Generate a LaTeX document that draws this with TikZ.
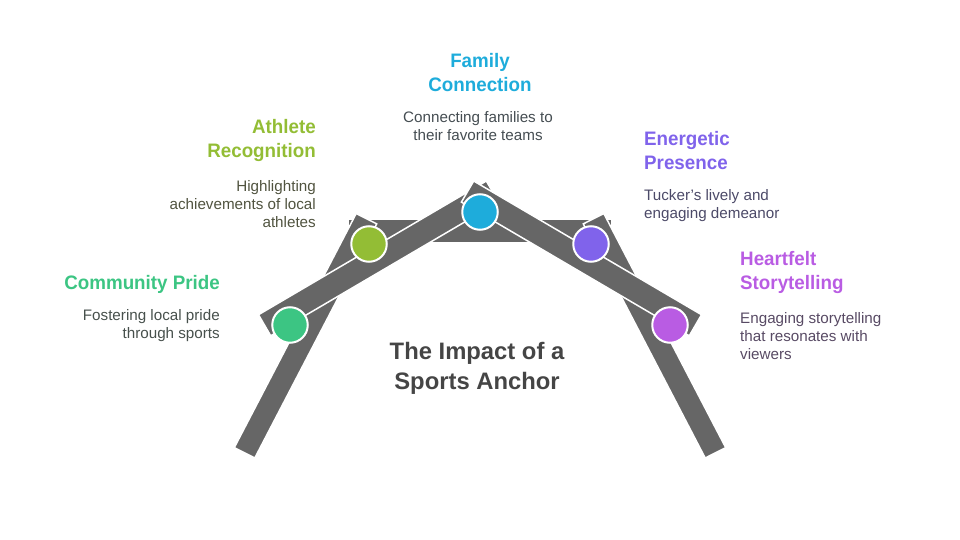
\documentclass[tikz,border=0pt]{standalone}
\usepackage{fontspec}
\setmainfont{Liberation Sans}
\newfontfamily\headfont[FakeStretch=0.963]{Liberation Sans}
\definecolor{bar}{HTML}{666666}
\definecolor{cgreen}{HTML}{3CC583}
\definecolor{colive}{HTML}{93BD35}
\definecolor{cblue}{HTML}{1EACDB}
\definecolor{cpurple}{HTML}{8063EB}
\definecolor{cmagenta}{HTML}{B95CE3}
\definecolor{tgreen}{HTML}{47504C}
\definecolor{tolive}{HTML}{50533F}
\definecolor{tblue}{HTML}{454D52}
\definecolor{tpurple}{HTML}{4C4A68}
\definecolor{tmagenta}{HTML}{584A64}
\tikzset{
  barshape/.style={fill=bar,draw=white,line width=1.5pt,line join=miter},
  dot/.style={circle,draw=white,line width=2pt,minimum size=35.5pt,inner sep=0pt},
  headl/.style={font=\headfont\fontsize{19.5}{24}\selectfont\bfseries,align=right,anchor=north east,inner sep=0pt},
  headr/.style={font=\headfont\fontsize{19.5}{24}\selectfont\bfseries,align=left,anchor=north west,inner sep=0pt},
  bodyl/.style={font=\fontsize{15.2}{18}\selectfont,align=right,anchor=north east,inner sep=0pt},
  bodyr/.style={font=\fontsize{15.2}{18}\selectfont,align=left,anchor=north west,inner sep=0pt},
}
\begin{document}
\begin{tikzpicture}[x=1pt,y=-1pt]
\useasboundingbox (0,0) rectangle (960,540);
% horizontal beam
\fill[bar] (349,219.5) rectangle (611,242);
% legs
\draw[barshape] (234.3,447.6) -- (356.2,213.5) -- (376.7,223.9) -- (254.8,458) -- cycle;
\draw[barshape] (725.7,447.6) -- (603.8,213.5) -- (583.3,223.9) -- (705.2,458) -- cycle;
% rafters
\draw[barshape] (258.5,314.7) -- (486.3,181) -- (498.6,202.1) -- (270.7,335.8) -- cycle;
\draw[barshape] (701.5,314.7) -- (473.7,181) -- (461.4,202.1) -- (689.3,335.8) -- cycle;
% dots
\node[dot,fill=cgreen] (d1) at (290,325) {};
\node[dot,fill=colive] (d2) at (369,244) {};
\node[dot,fill=cblue] (d3) at (480,212) {};
\node[dot,fill=cpurple] (d4) at (591,244) {};
\node[dot,fill=cmagenta] (d5) at (670,325) {};
% texts
\node[headl,text=cgreen] (h1) at (220,275) {Community Pride};
\node[bodyl,text=tgreen] (b1) at (220,309) {Fostering local pride\\through sports};
\node[headl,text=colive] (h2) at (316,119) {Athlete\\Recognition};
\node[bodyl,text=tolive] (b2) at (316,180) {Highlighting\\achievements of local\\athletes};
\node[headl,text=cblue,align=center,anchor=north] (h3) at (480,53) {Family\\Connection};
\node[bodyl,text=tblue,align=center,anchor=north] (b3) at (478,111) {Connecting families to\\their favorite teams};
\node[headr,text=cpurple] (h4) at (644,131) {Energetic\\Presence};
\node[bodyr,text=tpurple] (b4) at (644,189) {Tucker\char39 s lively and\\engaging demeanor};
\node[headr,text=cmagenta] (h5) at (740,251) {Heartfelt\\Storytelling};
\node[bodyr,text=tmagenta] (b5) at (740,312) {Engaging storytelling\\that resonates with\\viewers};
\node[font=\fontsize{23.8}{30}\selectfont\bfseries,text=black!73,align=center,anchor=north,inner sep=0pt] (t) at (477,342) {The Impact of a\\Sports Anchor};
\end{tikzpicture}
\end{document}
